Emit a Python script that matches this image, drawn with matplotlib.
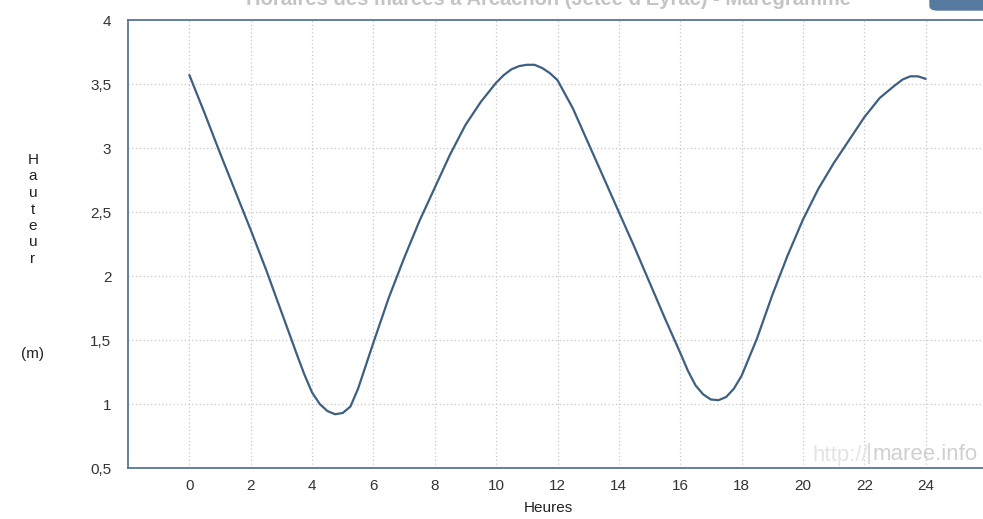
import matplotlib.pyplot as plt
from matplotlib.patches import FancyBboxPatch

plt.rcParams['font.family'] = ['Liberation Sans', 'DejaVu Sans']

heures = [0, 0.5, 1, 1.5, 2, 2.5, 3, 3.5, 3.75, 4, 4.25, 4.5, 4.75, 5, 5.25, 5.5, 6, 6.5,
          7, 7.5, 8, 8.5, 9, 9.5, 10, 10.25, 10.5, 10.75, 11, 11.25, 11.5, 11.75, 12, 12.5,
          13, 13.5, 14, 14.5, 15, 15.5, 16, 16.25, 16.5, 16.75, 17, 17.25, 17.5, 17.75, 18,
          18.5, 19, 19.5, 20, 20.5, 21, 21.5, 22, 22.5, 23, 23.25, 23.5, 23.75, 24]
hauteur = [3.57, 3.27, 2.96, 2.66, 2.36, 2.05, 1.72, 1.39, 1.23, 1.09, 1.0, 0.945, 0.92,
           0.93, 0.98, 1.12, 1.48, 1.83, 2.14, 2.43, 2.69, 2.95, 3.18, 3.36, 3.51, 3.57,
           3.615, 3.64, 3.65, 3.65, 3.625, 3.585, 3.53, 3.31, 3.04, 2.77, 2.50, 2.23, 1.95,
           1.67, 1.40, 1.26, 1.145, 1.075, 1.035, 1.03, 1.055, 1.12, 1.22, 1.51, 1.85, 2.16,
           2.44, 2.68, 2.88, 3.06, 3.24, 3.39, 3.49, 3.535, 3.56, 3.56, 3.54]

xticks = list(range(0, 25, 2))
yticks = [0.5, 1, 1.5, 2, 2.5, 3, 3.5, 4]
ylabels = ['0,5', '1', '1,5', '2', '2,5', '3', '3,5', '4']

W, H = 983, 519
fig = plt.figure(figsize=(W / 100, H / 100), dpi=100)
ax = fig.add_axes([128 / W, 51 / H, 859 / W, 448 / H])

ax.plot(heures, hauteur, color='#3d5f80', lw=1.6, solid_capstyle='round',
        solid_joinstyle='round')

ax.set_xlim(-2, 26)
ax.set_ylim(0.5, 4)
ax.set_xticks(xticks)
ax.set_yticks(yticks)
ax.set_yticklabels(ylabels)
ax.tick_params(length=0, labelsize=11, colors='#333333', pad=8)
ax.tick_params(axis='y', pad=12)
ax.grid(True, color='#c8c8c8', ls=(0, (1, 2)), lw=0.9)
for s in ['left', 'bottom', 'top']:
    ax.spines[s].set_color('#5a7590')
    ax.spines[s].set_linewidth(1.3)
ax.spines['right'].set_visible(False)

fig.text(548 / W, 1 - 508 / H, 'Heures', fontsize=11, color='#222222',
         ha='center', va='center')

# libelle vertical lettre par lettre
for i, c in enumerate('Hauteur'):
    fig.text(33 / W, 1 - (160 + i * 16.5) / H, c, fontsize=11, color='#222222',
             ha='center', va='center')
fig.text(33 / W, 1 - 354 / H, '(m)', fontsize=11, color='#222222', ha='center', va='center')

# titre coupe en haut
fig.text(548 / W, 1 - 5 / H, "Horaires des marées à Arcachon (Jetée d'Eyrac) - Marégramme",
         fontsize=14.5, color='#c4c4c4', ha='center', va='baseline', fontweight='bold')

# bouton bleu en haut a droite
fig.patches.append(FancyBboxPatch((930 / W, 1.0 - 10 / H), 62 / W, 16 / H,
                                  boxstyle='round,pad=0,rounding_size=0.008',
                                  transform=fig.transFigure, color='#56799f'))

# filigrane
fig.text(812 / W, 1 - 455 / H, 'http://', fontsize=16, color='#e4e4e4', va='center')
fig.add_artist(plt.Line2D([869 / W, 869 / W], [1 - 463 / H, 1 - 444 / H],
                          transform=fig.transFigure, color='#dcdcdc', lw=1.5))
fig.text(873 / W, 1 - 455 / H, 'maree.info', fontsize=16, color='#d0d0d0', va='center')

fig.savefig('out.png', dpi=100)
